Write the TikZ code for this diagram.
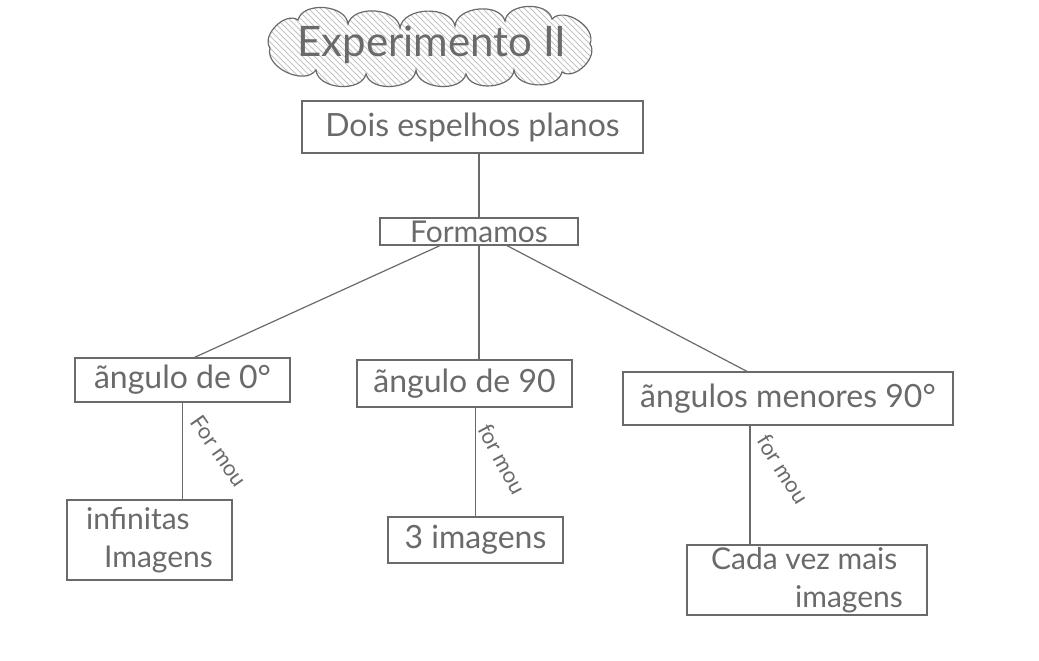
\documentclass[tikz,border=0pt]{standalone}
\usepackage{fontspec}
\setmainfont{Lato}
\usetikzlibrary{patterns,calc}
\definecolor{pencil}{HTML}{6A6A6A}
\definecolor{pencillight}{HTML}{C4C4C4}

\begin{document}
\begin{tikzpicture}[
  x=0.5pt,
  y=-0.5pt,
  every node/.style={font=\fontsize{16}{20}\selectfont, text=pencil},
  box/.style={draw=pencil, line width=0.6pt, inner sep=0pt},
  link/.style={draw=pencil, line width=0.6pt},
  verb/.style={font=\fontsize{11}{12}\selectfont}
]
  \useasboundingbox (0,0) rectangle (1039,660);

  % nuvem do titulo
  \path[draw=pencil, line width=0.6pt, pattern=north west lines, pattern color=pencillight]
    (270,48) to[bend left=80] (298,20) to[bend left=80] (348,24) to[bend left=80] (400,28)
    to[bend left=80] (455,26) to[bend left=80] (505,21) to[bend left=80] (552,19)
    to[bend left=80] (590,44) to[bend left=80] (562,72) to[bend left=80] (514,70)
    to[bend left=80] (466,74) to[bend left=80] (416,70) to[bend left=80] (366,74)
    to[bend left=80] (316,70) to[bend left=80] cycle;
  \node[font=\fontsize{21}{24}\selectfont] (title) at (432,45) {Experimento II};

  \node[box, minimum width=170.5pt, minimum height=26pt] (dois) at (472.5,127) {Dois espelhos planos};
  \node[box, minimum width=99pt, minimum height=13.5pt, font=\fontsize{15}{15}\selectfont] (form) at (479,231.5) {Formamos};

  \node[box, minimum width=107.5pt, minimum height=22pt] (ang0) at (182.5,380) {ãngulo de 0°};
  \node[box, minimum width=107.5pt, minimum height=23.5pt] (ang90) at (464.5,383.5) {ãngulo de 90};
  \node[box, minimum width=165pt, minimum height=26.5pt] (angm) at (788,398.5) {ãngulos menores 90°};

  \node[box, minimum width=82.5pt, minimum height=40pt, align=left, font=\fontsize{15}{19}\selectfont] (inf) at (149.5,540) {infinitas\\\hspace*{0.6em}Imagens};
  \node[box, minimum width=87.5pt, minimum height=23pt] (tres) at (475.5,540) {3 imagens};
  \node[box, minimum width=120pt, minimum height=35pt, align=left, font=\fontsize{15}{19}\selectfont] (mais) at (807,580) {Cada vez mais\\\hspace*{2.8em}imagens};

  % ligacoes
  \draw[link] (dois.south -| form.north) -- (form.north);
  \draw[link] ($(form.south)+(-39,0)$) -- ($(ang0.north)+(12,0)$);
  \draw[link] (form.south) -- (form.south |- ang90.north);
  \draw[link] ($(form.south)+(28,0)$) -- ($(angm.north)+(-41,0)$);

  \coordinate (mdrop) at ($(angm.south)+(-38,0)$);
  \draw[link] (ang0.south) -- (ang0.south |- inf.north);
  \draw[link] (tres.north |- ang90.south) -- (tres.north);
  \draw[link] (mdrop) -- (mdrop |- mais.north);

  \node[verb, rotate=-55] (f0) at (219,451) {For mou};
  \node[verb, rotate=-62] (f90) at (502,459) {for mou};
  \node[verb, rotate=-58] (fm) at (783,469) {for mou};
\end{tikzpicture}
\end{document}
